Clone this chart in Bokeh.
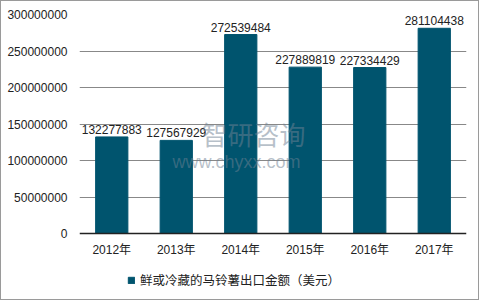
from bokeh.plotting import figure
from bokeh.models import (FactorRange, ColumnDataSource, Legend, LegendItem, Label,
                          NumeralTickFormatter, FixedTicker, Span, Range1d)
from bokeh.core.properties import value
from bokeh.embed import file_html
from bokeh.resources import INLINE

years = ["2012年", "2013年", "2014年", "2015年", "2016年", "2017年"]
values = [132277883, 127567929, 272539484, 227889819, 227334429, 281104438]
series_name = "鲜或冷藏的马铃薯出口金额（美元）"
y_ticks = [0, 50000000, 100000000, 150000000, 200000000, 250000000, 300000000]

FONT = "Liberation Sans, Arial, Noto Sans CJK SC"
BAR = "#00546E"
TEXT = "#222222"

# plot geometry: value area is 219px tall, with 65px below zero for the
# category labels and the legend
Y_MAX = 300000000
AREA_PX, BELOW_PX = 219, 65
y_min = -Y_MAX * BELOW_PX / AREA_PX

src = ColumnDataSource(dict(x=years, top=values, label=[str(v) for v in values],
                            base=[0] * len(years)))

p = figure(frame_width=387, frame_height=AREA_PX + BELOW_PX,
           x_range=FactorRange(factors=years), y_range=Range1d(y_min, Y_MAX),
           output_backend="svg", toolbar_location=None,
           min_border_left=78, min_border_right=12, min_border_top=13, min_border_bottom=1)
p.styles = {"border": "1px solid #9a9a9a"}
p.outline_line_color = None

r = p.vbar(x="x", top="top", bottom="base", width=0.5, source=src, color=BAR)
p.text(x="x", y="top", text="label", source=src, text_align="center",
       text_baseline="bottom", y_offset=-3, text_font_size="12px",
       text_font=value(FONT), text_color=TEXT)

# category labels under the zero line
p.text(x="x", y="base", text="x", source=src, text_align="center",
       text_baseline="middle", y_offset=16, text_font_size="12px",
       text_font=value(FONT), text_color=TEXT)
p.add_layout(Span(location=0, dimension="width", line_color=TEXT, line_width=1.5))

p.xaxis.visible = False
p.yaxis.ticker = FixedTicker(ticks=y_ticks)
p.yaxis.formatter = NumeralTickFormatter(format="0")
p.yaxis.axis_line_color = None
p.yaxis.major_tick_line_color = None
p.yaxis.minor_tick_line_color = None
p.yaxis.major_label_text_font = FONT
p.yaxis.major_label_text_font_size = "12px"
p.yaxis.major_label_text_color = TEXT
p.yaxis.major_label_standoff = 6

p.xgrid.grid_line_color = None
p.ygrid.ticker = FixedTicker(ticks=y_ticks[1:])
p.ygrid.grid_line_color = "#888888"
p.ygrid.grid_line_width = 1

legend = Legend(items=[LegendItem(label=series_name, renderers=[r])],
                orientation="horizontal", location=(48, 9),
                label_text_font=FONT, label_text_font_size="12.5px", label_text_color=TEXT,
                glyph_width=8, glyph_height=8, border_line_color=None,
                background_fill_alpha=0, margin=0, padding=4, label_standoff=5)
p.add_layout(legend)

# faint site watermark
p.add_layout(Label(x=122, y=82 + BELOW_PX, x_units="screen", y_units="screen", text="智研咨询",
                   text_font="Noto Sans CJK SC", text_font_size="26px",
                   text_color="#6f8294", text_alpha=0.5))
p.add_layout(Label(x=93, y=62 + BELOW_PX, x_units="screen", y_units="screen", text="www.chyxx.com",
                   text_font="Liberation Sans", text_font_size="18px",
                   text_color="#6f8294", text_alpha=0.5))

open("out.html", "w").write(file_html(p, INLINE))
